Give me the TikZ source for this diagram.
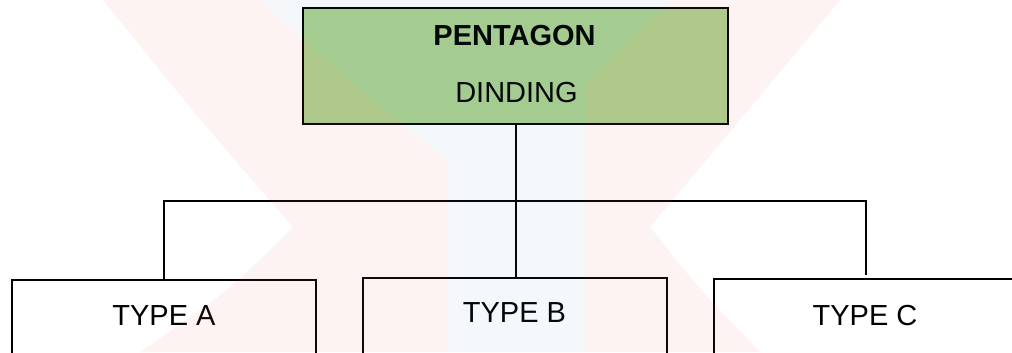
\documentclass[tikz,border=0pt]{standalone}
\usepackage{fontspec}
\setmainfont{Liberation Sans}
\definecolor{boxgreen}{RGB}{169,209,142}
\definecolor{wmred}{RGB}{237,108,108}
\definecolor{wmblue}{RGB}{90,140,190}
\begin{document}
\begin{tikzpicture}[x=1bp,y=-1bp,
  lin/.style={line width=2.4bp, draw=black},
  box/.style={draw=black, line width=2.4bp, rectangle, inner sep=0pt, anchor=north west, minimum width=304bp, minimum height=120bp},
  lbl/.style={font=\fontsize{29bp}{34bp}\selectfont, inner sep=0pt, text=black}]
\useasboundingbox (0,0) rectangle (1012,352);
\clip (0,0) rectangle (1012,352);
\fill[white] (0,0) rectangle (1012,352);
% boxes
\node[box, fill=boxgreen, minimum width=425bp, minimum height=116bp] (top) at (302,7) {};
\node[box] (A) at (11,279) {};
\node[box] (B) at (362,277) {};
\node[box] (C) at (713,278) {};
% texts
\node[lbl, font=\fontsize{29bp}{34bp}\selectfont\bfseries] (t1) at (514.5,36) {PENTAGON};
\node[lbl] (t2) at (516.5,92.5) {DINDING};
\node[lbl] (ta) at (164,316) {TYPE A};
\node[lbl] (tb) at (514.5,313) {TYPE B};
\node[lbl] (tc) at (865,316) {TYPE C};
% connectors
\coordinate (bus) at (514,201);
\draw[lin] (top.south) -- (top.south |- B.north);
\draw[lin, shorten >=3bp] (A.north) |- (C.north |- bus) -- (C.north);
% watermark
\fill[wmred, opacity=0.08] (103,0) -- (260,0) .. controls (360,90) .. (447,160) -- (447,352) -- (140,352) .. controls (230,290) .. (293,227) .. controls (200,120) .. cycle;
\fill[wmred, opacity=0.08] (671,0) -- (840,0) .. controls (740,120) .. (650,227) .. controls (700,290) .. (760,352) -- (585,352) -- (585,86) -- cycle;
\fill[wmblue, opacity=0.06] (260,0) -- (671,0) -- (585,86) -- (585,352) -- (447,352) -- (447,160) .. controls (360,90) .. cycle;
\end{tikzpicture}
\end{document}
